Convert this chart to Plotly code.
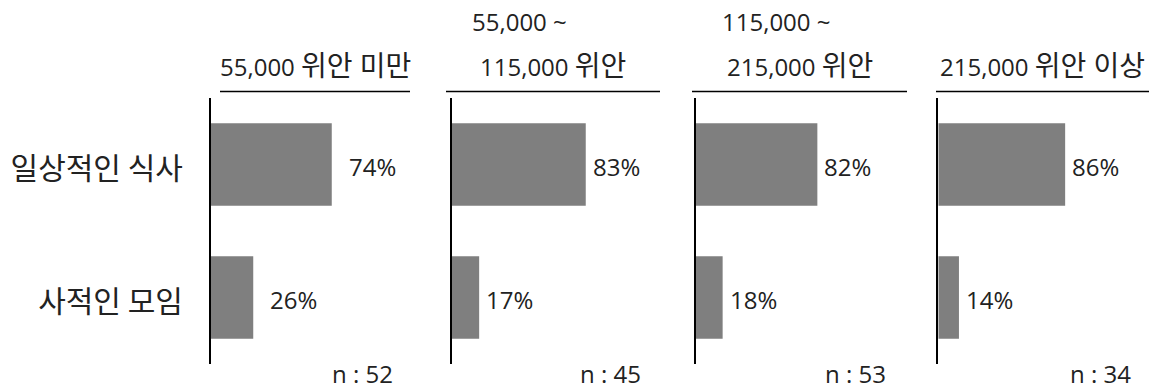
import re
import plotly.graph_objects as go

# ---------------- data ----------------
title_lines = [
    ["55,000 위안 미만"],
    ["55,000 ~", "115,000 위안"],
    ["115,000 ~", "215,000 위안"],
    ["215,000 위안 이상"],
]
categories = ["일상적인 식사", "사적인 모임"]
daily_meal = [74, 83, 82, 86]
private_gathering = [26, 17, 18, 14]
sample_sizes = [52, 45, 53, 34]

# ---------------- layout helpers ----------------
W, H = 1170, 392
FONT = "Open Sans, Noto Sans CJK KR, sans-serif"
KFONT = "Noto Sans CJK KR, sans-serif"
TXT = "#222222"
BAR = "#7f7f7f"


def px(x):
    return x / W


def py(y):
    return 1 - y / H


def kr(text, size=28):
    # enlarge Hangul runs, as in the original font
    return re.sub(r"([\uac00-\ud7a3]+(?: [\uac00-\ud7a3]+)*)",
                  lambda m: f'<span style="font-size:{size}px">{m.group(1)}</span>', text)


axis_px = [210.7, 451.7, 696.0, 938.3]      # left edge of each panel
px_per_pct = [1.636, 1.615, 1.48, 1.475]    # scale of each panel
panel_w = 195
underline_px = [(220, 410), (446, 660), (692, 907), (936, 1149)]
first_line_left = [None, 470, 720, None]
label_gap = [15, 5, 5, 5]
n_center_px = [362, 610, 855, 1100]

fig = go.Figure()
annotations = []
shapes = []

for i in range(4):
    k = "" if i == 0 else str(i + 1)
    xa, ya = f"x{k}", f"y{k}"
    vals = [daily_meal[i], private_gathering[i]]
    fig.add_trace(go.Bar(
        x=vals, y=categories, orientation="h",
        marker=dict(color=BAR, line=dict(width=0)),
        width=0.62, xaxis=xa, yaxis=ya, showlegend=False,
        hoverinfo="x+y",
    ))
    x0 = axis_px[i]
    fig.update_layout(**{
        f"xaxis{k}": dict(domain=[px(x0), px(x0 + panel_w)],
                          range=[0, panel_w / px_per_pct[i]],
                          visible=False, fixedrange=True),
        f"yaxis{k}": dict(domain=[py(364), py(98)], anchor=xa,
                          type="category", categoryorder="array",
                          categoryarray=categories,
                          range=[1.5, -0.5],
                          showline=True, linecolor="#000000", linewidth=1.6,
                          showgrid=False, zeroline=False, ticks="",
                          showticklabels=(i == 0), ticklabelstandoff=20,
                          ticklabelshift=-4,
                          tickfont=dict(family=KFONT, size=30, color=TXT),
                          fixedrange=True),
    })
    if i > 0:
        fig.layout[f"xaxis{k}"].anchor = ya
    # value labels
    for cat, v in zip(categories, vals):
        annotations.append(dict(
            x=v, y=cat, xref=xa, yref=ya, text=f"{v}%",
            showarrow=False, xanchor="left", yanchor="middle",
            xshift=label_gap[i], yshift=-2,
            font=dict(family=FONT, size=24, color=TXT)))
    # underline
    ux0, ux1 = underline_px[i]
    shapes.append(dict(type="line", xref="paper", yref="paper",
                       x0=px(ux0), x1=px(ux1), y0=py(91.5), y1=py(91.5),
                       line=dict(color="#000000", width=1.6)))
    # titles
    lines = title_lines[i]
    annotations.append(dict(
        x=px((ux0 + ux1) / 2), y=py(65), xref="paper", yref="paper",
        text=kr(lines[-1]), showarrow=False, xanchor="center", yanchor="middle",
        font=dict(family=FONT, size=24, color=TXT)))
    if len(lines) > 1:
        annotations.append(dict(
            x=px(first_line_left[i]), y=py(21.7), xref="paper", yref="paper",
            text=kr(lines[0]), showarrow=False, xanchor="left", yanchor="middle",
            font=dict(family=FONT, size=24, color=TXT)))
    # sample size
    annotations.append(dict(
        x=px(n_center_px[i]), y=0, xref="paper", yref="paper",
        text=f"n : {sample_sizes[i]}", showarrow=False,
        xanchor="center", yanchor="bottom",
        font=dict(family=FONT, size=24, color=TXT)))

fig.update_layout(
    width=W, height=H,
    margin=dict(l=0, r=0, t=0, b=0),
    paper_bgcolor="#ffffff", plot_bgcolor="#ffffff",
    bargap=0.38,
    annotations=annotations, shapes=shapes,
    font=dict(family=FONT, color=TXT),
)

fig.write_html("out.html", config={"displayModeBar": False},
               post_script="document.body.style.margin='0px';document.body.style.overflow='hidden';")
